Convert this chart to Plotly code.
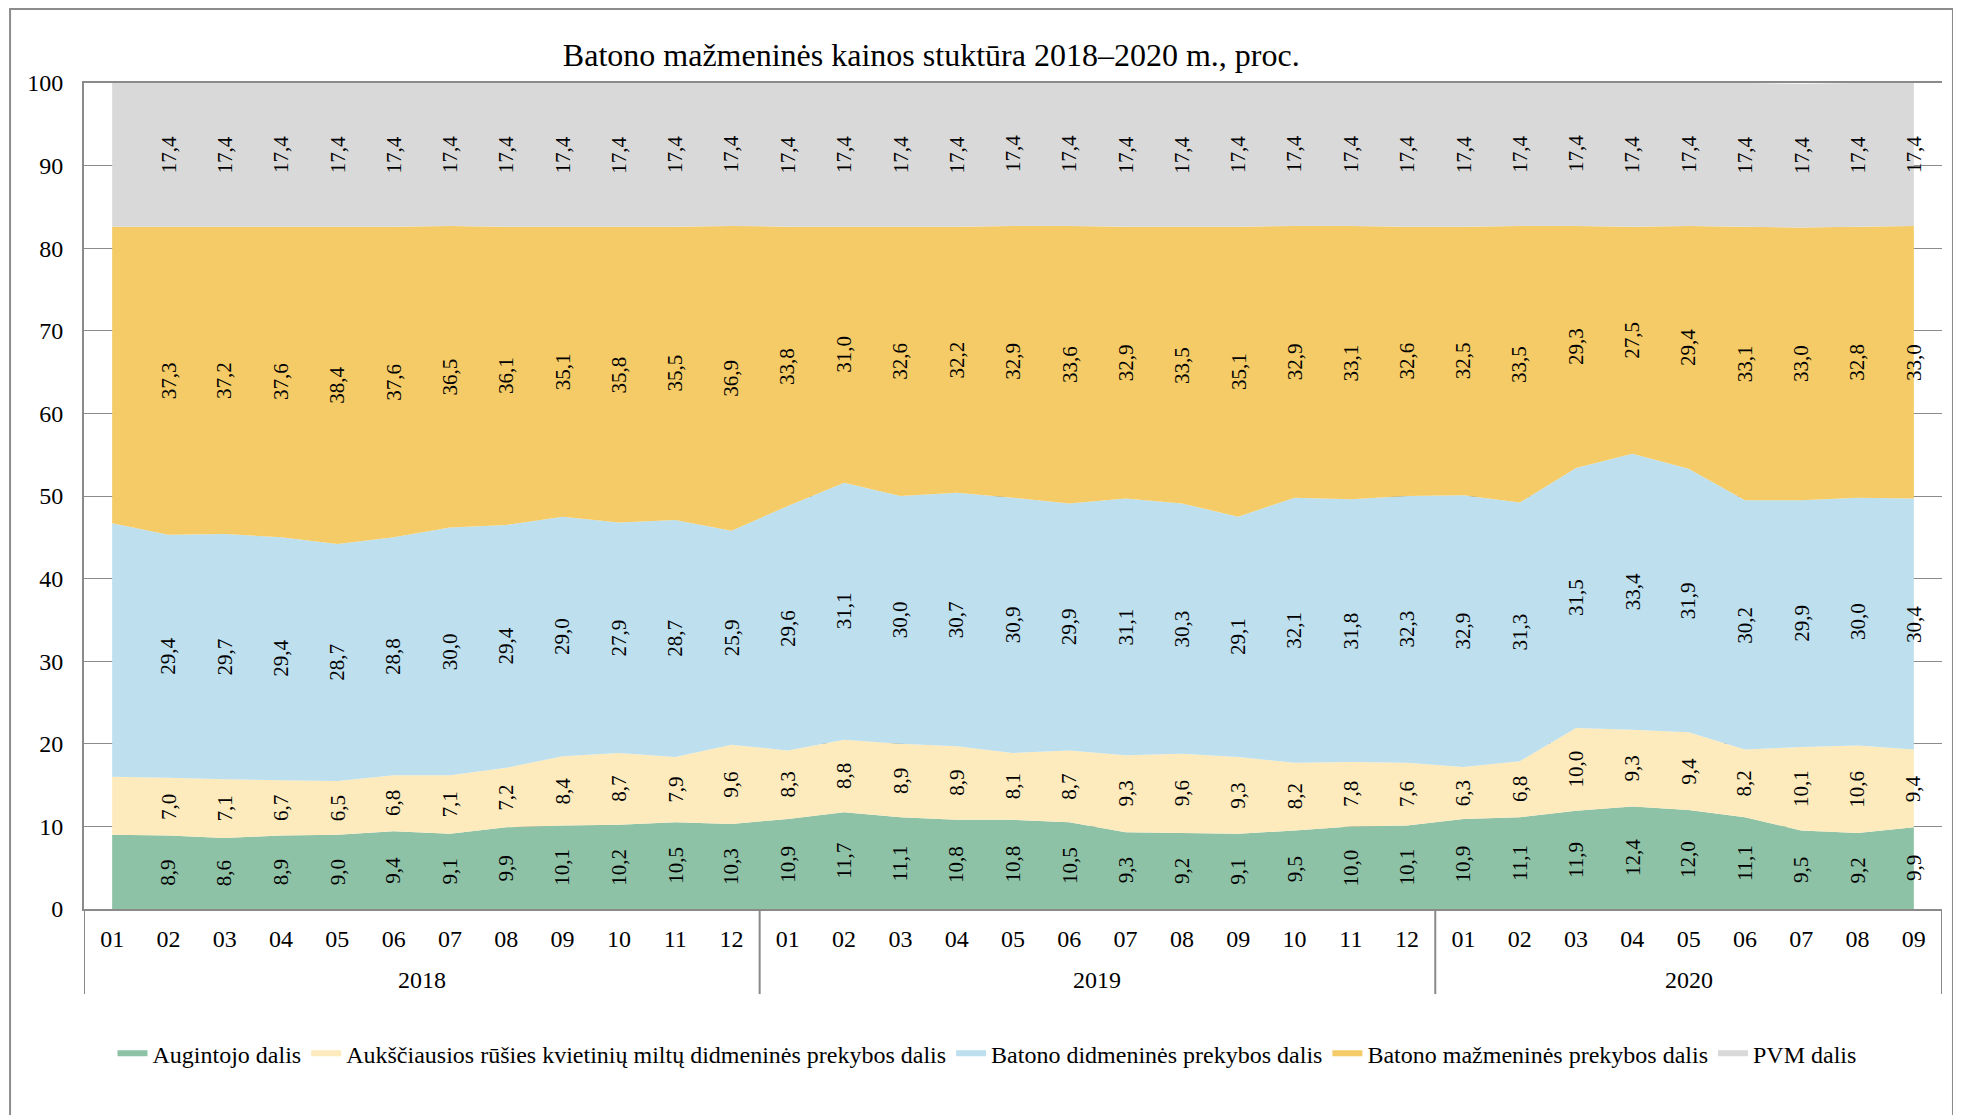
import plotly.graph_objects as go

# --- data (%), 2018-01 .. 2020-09 ---
years = ["2018"] * 12 + ["2019"] * 12 + ["2020"] * 9
months = ["01", "02", "03", "04", "05", "06", "07", "08", "09", "10", "11", "12"] * 2 + \
         ["01", "02", "03", "04", "05", "06", "07", "08", "09"]

augintojo = [9.0, 8.9, 8.6, 8.9, 9.0, 9.4, 9.1, 9.9, 10.1, 10.2, 10.5, 10.3,
             10.9, 11.7, 11.1, 10.8, 10.8, 10.5, 9.3, 9.2, 9.1, 9.5, 10.0, 10.1,
             10.9, 11.1, 11.9, 12.4, 12.0, 11.1, 9.5, 9.2, 9.9]
miltai = [7.0, 7.0, 7.1, 6.7, 6.5, 6.8, 7.1, 7.2, 8.4, 8.7, 7.9, 9.6,
          8.3, 8.8, 8.9, 8.9, 8.1, 8.7, 9.3, 9.6, 9.3, 8.2, 7.8, 7.6,
          6.3, 6.8, 10.0, 9.3, 9.4, 8.2, 10.1, 10.6, 9.4]
didmenine = [30.7, 29.4, 29.7, 29.4, 28.7, 28.8, 30.0, 29.4, 29.0, 27.9, 28.7, 25.9,
             29.6, 31.1, 30.0, 30.7, 30.9, 29.9, 31.1, 30.3, 29.1, 32.1, 31.8, 32.3,
             32.9, 31.3, 31.5, 33.4, 31.9, 30.2, 29.9, 30.0, 30.4]
mazmenine = [35.9, 37.3, 37.2, 37.6, 38.4, 37.6, 36.5, 36.1, 35.1, 35.8, 35.5, 36.9,
             33.8, 31.0, 32.6, 32.2, 32.9, 33.6, 32.9, 33.5, 35.1, 32.9, 33.1, 32.6,
             32.5, 33.5, 29.3, 27.5, 29.4, 33.1, 33.0, 32.8, 33.0]
pvm = [17.4] * 33

series = [
    ("Augintojo dalis", augintojo, "#8ec2a6"),
    ("Aukščiausios rūšies kvietinių miltų didmeninės prekybos dalis", miltai, "#fdebbd"),
    ("Batono didmeninės prekybos dalis", didmenine, "#bddfee"),
    ("Batono mažmeninės prekybos dalis", mazmenine, "#f4cb66"),
    ("PVM dalis", pvm, "#d9d9d9"),
]

FONT = "Liberation Serif"
GREY = "#8a8a8a"
idx = list(range(len(months)))

fig = go.Figure()
annotations = []
base = [0.0] * len(months)
for name, vals, col in series:
    fig.add_trace(go.Scatter(x=idx, y=vals, name=name, stackgroup="one", mode="none",
                             fillcolor=col, hoverinfo="y+name"))
    for i, v in enumerate(vals):
        if i > 0:  # the first month carries no labels in the source chart
            annotations.append(dict(x=i, y=base[i] + v / 2, xref="x", yref="y",
                                    text=f"{v:.1f}".replace(".", ","), showarrow=False,
                                    textangle=-90, font=dict(family=FONT, size=21, color="black")))
        base[i] += v

# year group labels and dividers under the month labels
shapes = []
groups = []
for i, y in enumerate(years):
    if not groups or groups[-1][0] != y:
        groups.append([y, i, i])
    groups[-1][2] = i
for y, first, last in groups:
    annotations.append(dict(x=(first + last) / 2, y=-0.086, xref="x", yref="paper",
                            text=y, showarrow=False, yanchor="middle",
                            font=dict(family=FONT, size=24, color="black")))
    shapes.append(dict(type="line", xref="x", yref="paper", x0=first - 0.5, x1=first - 0.5,
                       y0=0, y1=-0.103, line=dict(color=GREY, width=2)))
shapes.append(dict(type="line", xref="x", yref="paper", x0=groups[-1][2] + 0.5,
                   x1=groups[-1][2] + 0.5, y0=0, y1=-0.103, line=dict(color=GREY, width=2)))
# outer chart border
shapes.append(dict(type="rect", xref="paper", yref="paper", x0=-0.0398, x1=1.0059,
                   y0=-0.3, y1=1.0896, line=dict(color="#8c8c8c", width=2), layer="below"))

fig.update_layout(
    width=1953, height=1107,
    margin=dict(l=76, r=19, t=75, b=206),
    paper_bgcolor="white", plot_bgcolor="white",
    font=dict(family=FONT, size=24, color="black"),
    title=dict(text="Batono mažmeninės kainos stuktūra 2018–2020 m., proc.",
               x=0.456, xref="paper", xanchor="center", y=0.958, yanchor="middle",
               font=dict(family=FONT, size=32, color="black")),
    showlegend=True,
    legend=dict(orientation="h", x=0.486, xanchor="center", y=-0.175, yanchor="middle",
                traceorder="normal", font=dict(family=FONT, size=24), itemwidth=30),
    annotations=annotations,
    shapes=shapes,
)
fig.update_xaxes(range=[-0.5, len(months) - 0.5], tickmode="array", tickvals=idx, ticktext=months,
                 showline=True, mirror=True, linecolor=GREY, linewidth=2, showgrid=False,
                 zeroline=False, ticks="", ticklabelstandoff=7, tickfont=dict(family=FONT, size=24))
fig.update_yaxes(range=[0, 100], dtick=10, showgrid=True, gridcolor="#8c8c8c", gridwidth=1,
                 showline=True, linecolor=GREY, linewidth=2, ticks="", zeroline=False,
                 ticklabelstandoff=14, tickfont=dict(family=FONT, size=24))

fig.write_html("out.html")
